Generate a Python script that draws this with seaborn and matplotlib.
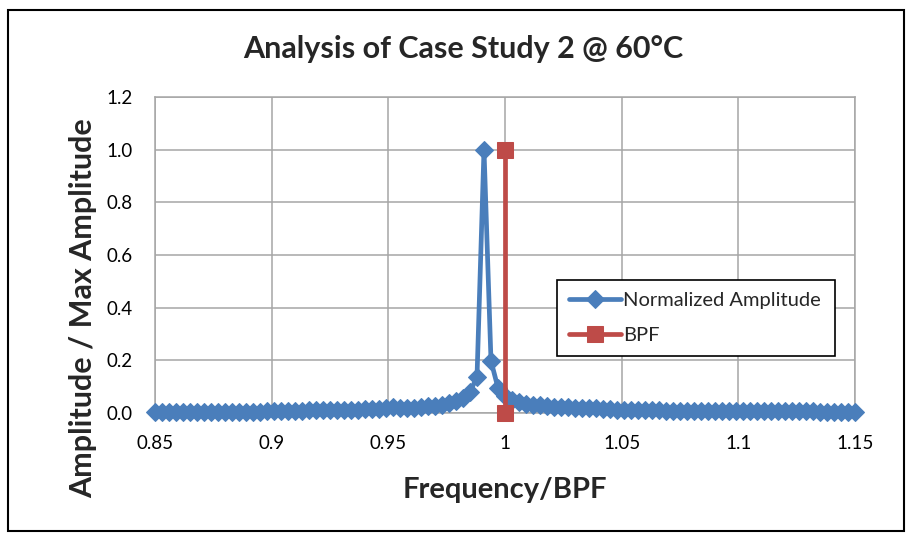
import numpy as np
import pandas as pd
import seaborn as sns
import matplotlib.pyplot as plt
from matplotlib.patches import Rectangle

# Frequency normalised by blade pass frequency (sample grid)
freq = [0.850, 0.853, 0.856, 0.859, 0.862, 0.865, 0.868, 0.871, 0.874, 0.877,
        0.880, 0.883, 0.886, 0.889, 0.892, 0.895, 0.898, 0.901, 0.904, 0.907,
        0.910, 0.913, 0.916, 0.919, 0.922, 0.925, 0.928, 0.931, 0.934, 0.937,
        0.940, 0.943, 0.946, 0.949, 0.952, 0.955, 0.958, 0.961, 0.964, 0.967,
        0.970, 0.973, 0.976, 0.979, 0.982, 0.985, 0.988, 0.991, 0.994, 0.997,
        1.000, 1.003, 1.006, 1.009, 1.012, 1.015, 1.018, 1.021, 1.024, 1.027,
        1.030, 1.033, 1.036, 1.039, 1.042, 1.045, 1.048, 1.051, 1.054, 1.057,
        1.060, 1.063, 1.066, 1.069, 1.072, 1.075, 1.078, 1.081, 1.084, 1.087,
        1.090, 1.093, 1.096, 1.099, 1.102, 1.105, 1.108, 1.111, 1.114, 1.117,
        1.120, 1.123, 1.126, 1.129, 1.132, 1.135, 1.138, 1.141, 1.144, 1.147,
        1.150]

# Normalized amplitude
amplitude = [0.002, 0.002, 0.002, 0.002, 0.002, 0.003, 0.003, 0.003, 0.003, 0.003,
             0.004, 0.004, 0.004, 0.004, 0.005, 0.005, 0.006, 0.007, 0.008, 0.008,
             0.009, 0.009, 0.010, 0.010, 0.011, 0.011, 0.012, 0.012, 0.013, 0.013,
             0.014, 0.015, 0.016, 0.018, 0.022, 0.019, 0.018, 0.020, 0.022, 0.025,
             0.028, 0.032, 0.037, 0.045, 0.058, 0.080, 0.137, 1.000, 0.198, 0.095,
             0.065, 0.050, 0.042, 0.036, 0.032, 0.029, 0.026, 0.024, 0.022, 0.021,
             0.020, 0.019, 0.018, 0.018, 0.017, 0.015, 0.013, 0.012, 0.011, 0.011,
             0.010, 0.010, 0.010, 0.009, 0.009, 0.009, 0.009, 0.008, 0.008, 0.008,
             0.008, 0.008, 0.007, 0.007, 0.007, 0.007, 0.007, 0.007, 0.006, 0.006,
             0.006, 0.006, 0.006, 0.006, 0.006, 0.005, 0.005, 0.005, 0.005, 0.005,
             0.005]

# BPF marker line
bpf_x = [1.0, 1.0]
bpf_y = [0.0, 1.0]

x_ticks = [0.85, 0.9, 0.95, 1.0, 1.05, 1.1, 1.15]
x_tick_labels = ['0.85', '0.9', '0.95', '1', '1.05', '1.1', '1.15']
y_ticks = [0.0, 0.2, 0.4, 0.6, 0.8, 1.0, 1.2]

sns.set_style('white')
plt.rcParams['font.family'] = ['Lato', 'DejaVu Sans']

blue = '#4A7EBB'
red = '#BE4B48'

fig = plt.figure(figsize=(9.09, 5.38), dpi=100)
ax = fig.add_axes([0.1705, 0.2323, 0.7701, 0.5874])

df_amp = pd.DataFrame({'freq': freq, 'amp': amplitude})
df_bpf = pd.DataFrame({'freq': bpf_x, 'amp': bpf_y})

sns.lineplot(data=df_amp, x='freq', y='amp', estimator=None, sort=False,
             color=blue, linewidth=3.4, marker='D', markersize=9,
             markeredgecolor=blue, label='Normalized Amplitude', ax=ax,
             zorder=3, clip_on=False)
sns.lineplot(data=df_bpf, x='freq', y='amp', estimator=None, sort=False,
             color=red, linewidth=3.4, marker='s', markersize=11,
             markeredgecolor=red, label='BPF', ax=ax, zorder=4, clip_on=False)

ax.set_xlim(0.85, 1.15)
ax.set_ylim(0, 1.2)
ax.set_xticks(x_ticks)
ax.set_xticklabels(x_tick_labels)
ax.set_yticks(y_ticks)
ax.set_yticklabels([f'{v:.1f}' for v in y_ticks])
ax.grid(True, color='#A6A6A6', linewidth=1.1)
ax.set_axisbelow(True)
for s in ax.spines.values():
    s.set_color('#A6A6A6')
    s.set_linewidth(1.1)
ax.tick_params(axis='both', labelsize=13.5, colors='black', length=0)
ax.tick_params(axis='x', pad=16)
ax.tick_params(axis='y', pad=16)

ax.set_xlabel('Frequency/BPF', fontsize=21, fontweight='bold', labelpad=18)
ax.set_ylabel('Amplitude / Max Amplitude', fontsize=22, fontweight='bold')
ax.yaxis.set_label_coords(-0.083, 0.332)
ax.set_title('Analysis of Case Study 2 @ 60°C', fontsize=22, fontweight='bold',
             pad=28, x=0.441)

leg = ax.legend(loc='lower left', bbox_to_anchor=(0.574, 0.18, 0.397, 0.253),
                mode='expand', fancybox=False, framealpha=1, edgecolor='black',
                fontsize=14.5, handlelength=2.6, handletextpad=0.1,
                labelspacing=0.9, borderpad=0.6, borderaxespad=0)
leg.get_frame().set_linewidth(1.2)
leg.set_zorder(5)

# outer chart border
fig.patches.append(Rectangle((0.009, 0.013), 0.985, 0.968, transform=fig.transFigure,
                             fill=False, edgecolor='black', linewidth=1.5))

fig.savefig('out.png', dpi=100)
